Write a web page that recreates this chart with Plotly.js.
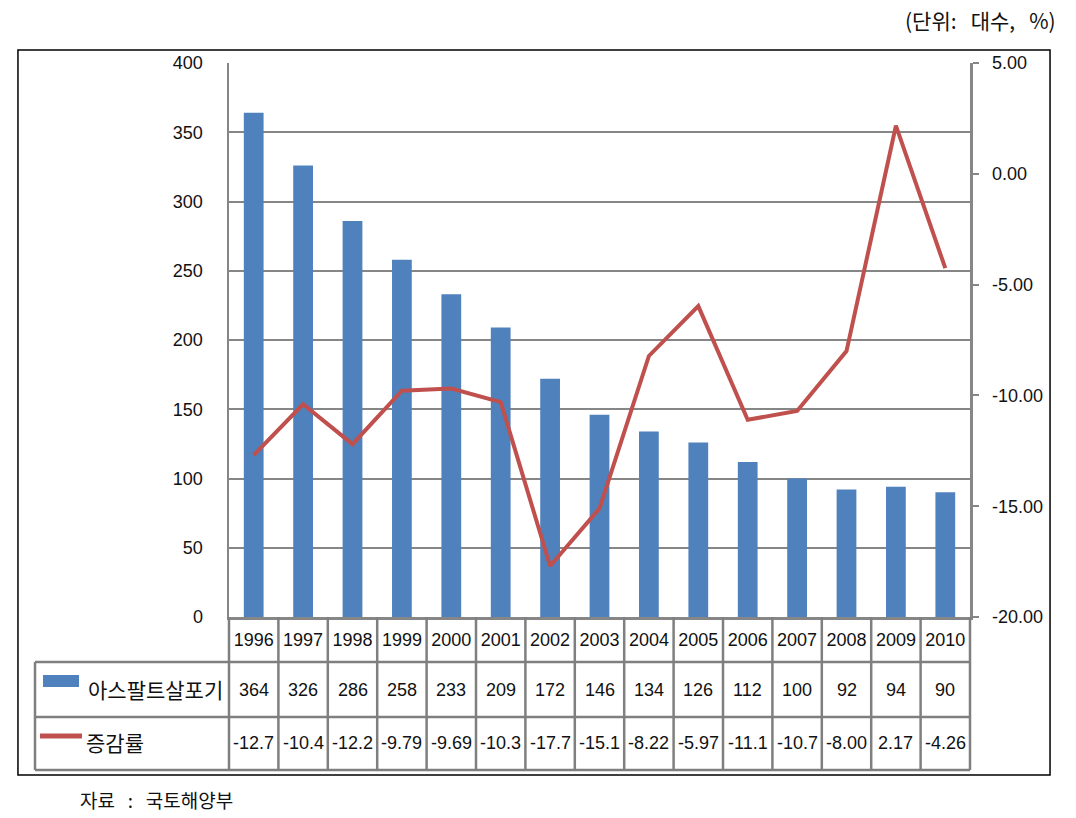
<!DOCTYPE html>
<html>
<head>
<meta charset="utf-8">
<script src="https://cdn.plot.ly/plotly-3.0.1.min.js"></script>
<style>html,body{margin:0;padding:0;background:#fff;}#chart{width:1076px;height:818px;}</style>
</head>
<body>
<div id="chart"></div>
<script>
var years = ['1996','1997','1998','1999','2000','2001','2002','2003','2004','2005','2006','2007','2008','2009','2010'];
var sprayers = [364, 326, 286, 258, 233, 209, 172, 146, 134, 126, 112, 100, 92, 94, 90];
var changeRate = [-12.7, -10.4, -12.2, -9.79, -9.69, -10.3, -17.7, -15.1, -8.22, -5.97, -11.1, -10.7, -8.00, 2.17, -4.26];
var changeRateText = ['-12.7','-10.4','-12.2','-9.79','-9.69','-10.3','-17.7','-15.1','-8.22','-5.97','-11.1','-10.7','-8.00','2.17','-4.26'];
var leftTicks = [0, 50, 100, 150, 200, 250, 300, 350, 400];
var rightTickVals = [-20, -15, -10, -5, 0, 5];
var rightTickText = ['-20.00', '-15.00', '-10.00', '-5.00', '0.00', '5.00'];
var seriesNames = ['아스팔트살포기', '증감률'];
var unitText = '(단위:\u00a0\u00a0 대수,\u00a0\u00a0 %)';
var sourceText = '자료\u00a0\u00a0 :\u00a0\u00a0 국토해양부';

var numFont = '"Liberation Sans Narrow", "Liberation Sans", Arial, sans-serif';
var krFont = '"Noto Sans CJK KR", "Noto Sans", sans-serif';
var gridGray = '#868686';
var tableGray = '#7f7f7f';
var blue = '#4F81BD';
var red = '#C0504D';

var traces = [
  {
    type: 'bar', x: years, y: sprayers, name: seriesNames[0],
    marker: {color: blue}, width: 0.4, yaxis: 'y', hoverinfo: 'x+y'
  },
  {
    type: 'scatter', mode: 'lines', x: years, y: changeRate, name: seriesNames[1],
    line: {color: red, width: 4}, yaxis: 'y2', hoverinfo: 'x+y'
  }
];

// table geometry in paper coordinates
var yRow1Bot = -0.0812, yRow2Bot = -0.1805, yRow3Bot = -0.2762;
var xTableLeft = -0.2618;
var shapes = [];
function hline(y, x0, x1) {
  shapes.push({type: 'line', xref: 'paper', yref: 'paper', x0: x0, x1: x1, y0: y, y1: y, line: {color: tableGray, width: 2.5}});
}
hline(yRow1Bot, xTableLeft, 1);
hline(yRow2Bot, xTableLeft, 1);
hline(yRow3Bot, xTableLeft, 1);
shapes.push({type: 'line', xref: 'paper', yref: 'paper', x0: xTableLeft, x1: xTableLeft, y0: yRow1Bot, y1: yRow3Bot, line: {color: tableGray, width: 2.5}});
shapes.push({type: 'line', xref: 'paper', yref: 'paper', x0: 0, x1: 0, y0: 0, y1: yRow3Bot, line: {color: tableGray, width: 2.5}});
shapes.push({type: 'line', xref: 'paper', yref: 'paper', x0: 1, x1: 1, y0: 0, y1: yRow3Bot, line: {color: tableGray, width: 2.5}});
for (var i = 0; i < years.length - 1; i++) {
  shapes.push({type: 'line', xref: 'x', yref: 'paper', x0: i + 0.5, x1: i + 0.5, y0: 0, y1: yRow3Bot, line: {color: tableGray, width: 2.5}});
}
// outer border
shapes.push({type: 'rect', xref: 'paper', yref: 'paper', x0: -0.2848, x1: 1.108, y0: 1.0235, y1: -0.2852, line: {color: '#000', width: 1.5}, fillcolor: 'rgba(0,0,0,0)'});
// legend keys
shapes.push({type: 'rect', xref: 'paper', yref: 'paper', x0: -0.2510, x1: -0.2024, y0: -0.1047, y1: -0.1264, line: {width: 0}, fillcolor: blue});
shapes.push({type: 'line', xref: 'paper', yref: 'paper', x0: -0.2551, x1: -0.1984, y0: -0.2148, y1: -0.2148, line: {color: red, width: 5}});

var annotations = [];
for (var j = 0; j < years.length; j++) {
  annotations.push({xref: 'x', yref: 'paper', x: j, y: -0.1318, text: String(sprayers[j]), showarrow: false,
    font: {family: numFont, size: 18, color: '#111'}, xanchor: 'center', yanchor: 'middle'});
  annotations.push({xref: 'x', yref: 'paper', x: j, y: -0.2283, text: changeRateText[j], showarrow: false,
    font: {family: numFont, size: 18, color: '#111'}, xanchor: 'center', yanchor: 'middle'});
}
annotations.push({xref: 'paper', yref: 'paper', x: -0.1930, y: -0.1300, text: seriesNames[0], showarrow: false,
  font: {family: krFont, size: 21, color: '#111'}, xanchor: 'left', yanchor: 'middle'});
annotations.push({xref: 'paper', yref: 'paper', x: -0.1957, y: -0.2256, text: seriesNames[1], showarrow: false,
  font: {family: krFont, size: 21, color: '#111'}, xanchor: 'left', yanchor: 'middle'});
annotations.push({xref: 'paper', yref: 'paper', x: 1.1188, y: 1.0776, text: unitText, showarrow: false,
  font: {family: krFont, size: 21, color: '#111'}, xanchor: 'right', yanchor: 'middle'});
annotations.push({xref: 'paper', yref: 'paper', x: -0.2038, y: -0.3303, text: sourceText, showarrow: false,
  font: {family: krFont, size: 19, color: '#111'}, xanchor: 'left', yanchor: 'middle'});

var layout = {
  width: 1076, height: 818,
  margin: {l: 229, r: 106, t: 63, b: 201, pad: 0},
  paper_bgcolor: '#fff', plot_bgcolor: '#fff',
  showlegend: false,
  xaxis: {
    type: 'category', range: [-0.5, 14.5], showgrid: false, zeroline: false,
    showline: true, linecolor: gridGray, linewidth: 2.5, ticks: '',
    tickfont: {family: numFont, size: 18, color: '#111'}, ticklabelstandoff: 5, fixedrange: true
  },
  yaxis: {
    range: [0, 400], tickvals: leftTicks, showgrid: true, gridcolor: gridGray, gridwidth: 2,
    zeroline: false, showline: true, linecolor: gridGray, linewidth: 2.5, ticks: '',
    tickfont: {family: numFont, size: 18, color: '#111'}, ticklabelstandoff: 20, fixedrange: true
  },
  yaxis2: {
    overlaying: 'y', side: 'right', range: [-20, 5], tickvals: rightTickVals, ticktext: rightTickText,
    showgrid: false, zeroline: false, showline: true, linecolor: gridGray, linewidth: 2.5,
    ticks: 'outside', ticklen: 6, tickwidth: 2, tickcolor: gridGray,
    tickfont: {family: numFont, size: 18, color: '#111'}, ticklabelstandoff: 10, fixedrange: true
  },
  bargap: 0.6,
  shapes: shapes,
  annotations: annotations
};

Plotly.newPlot('chart', traces, layout, {displayModeBar: false, staticPlot: true});
</script>
</body>
</html>
